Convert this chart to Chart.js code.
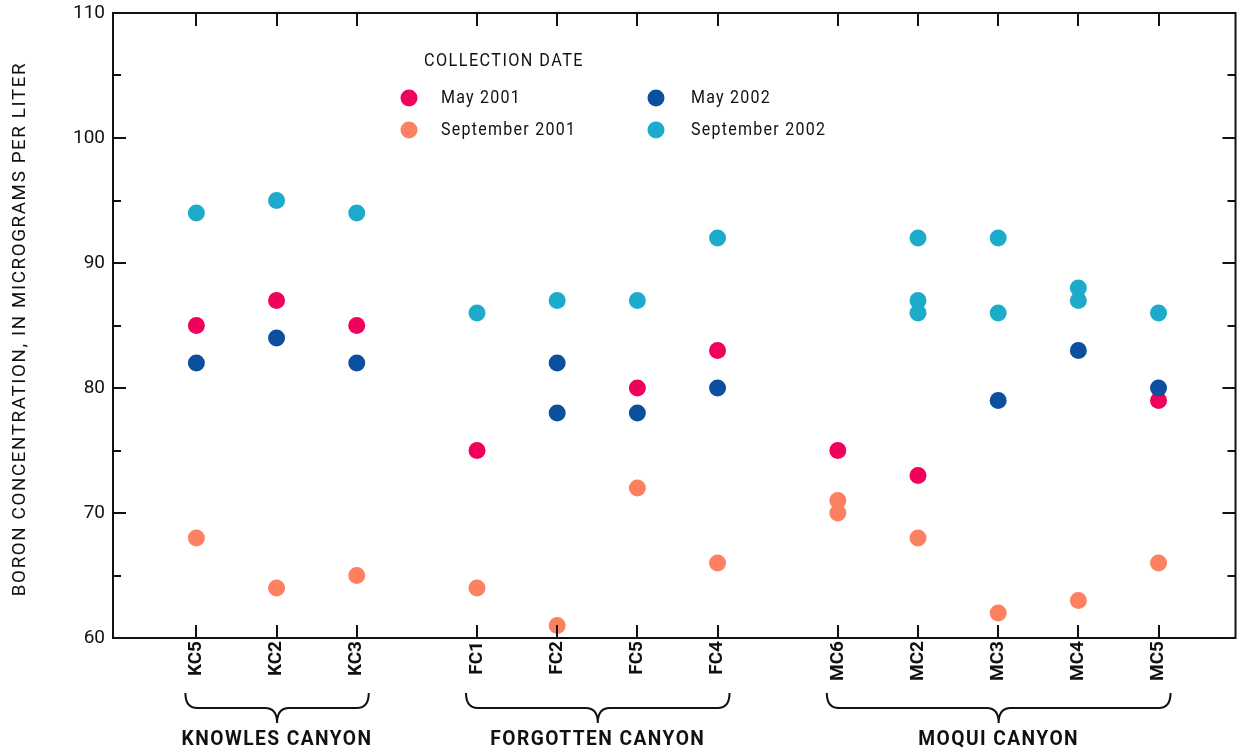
<!DOCTYPE html>
<html>
<head>
<meta charset="utf-8">
<script src="https://cdn.jsdelivr.net/npm/chart.js@4.4.1/dist/chart.umd.min.js"></script>
<style>
  html, body { margin: 0; padding: 0; background: #fff; }
  #wrap { width: 1244px; height: 756px; position: relative; }
</style>
</head>
<body>
<div id="wrap"><canvas id="chart"></canvas></div>
<script>
// sites, grouped by canyon
const groupNames = ['KNOWLES CANYON', 'FORGOTTEN CANYON', 'MOQUI CANYON'];
const groupSizes = [3, 4, 5];
const sites = ['KC5', 'KC2', 'KC3', 'FC1', 'FC2', 'FC5', 'FC4', 'MC6', 'MC2', 'MC3', 'MC4', 'MC5'];

// boron, micrograms per liter (a site can have several samples)
const may2001 = [85, 87, 85, 75, null, 80, 83, 75, 73, null, null, 79];
const sep2001 = [68, 64, 65, 64, 61, 72, 66, [71, 70], 68, 62, 63, 66];
const may2002 = [82, 84, 82, null, [82, 78], 78, 80, null, null, 79, 83, 80];
const sep2002 = [94, 95, 94, 86, 87, 87, 92, null, [92, 87, 86], [92, 86], [88, 87], 86];

const yTicks = [60, 70, 80, 90, 100, 110];

const FONT = 'Roboto, "Liberation Sans", sans-serif';
Chart.defaults.font.family = FONT;
Chart.defaults.color = '#111';

// x position of each site: one unit apart, half a unit extra between canyons
const GAP = 0.5;
let xPos = [];
let groupRange = [];
let p = 0;
groupSizes.forEach((n, g) => {
  let start = p;
  for (let i = 0; i < n; i++) { xPos.push(p); p++; }
  groupRange.push([start, p - 1]);
  p += GAP;
});

function toPoints(vals) {
  let pts = [];
  vals.forEach((v, i) => {
    if (v == null) return;
    (Array.isArray(v) ? v : [v]).forEach(y => pts.push({ x: xPos[i], y: y }));
  });
  return pts;
}

const series = [
  { label: 'May 2001', vals: may2001, color: '#F0025C', order: 3 },
  { label: 'September 2001', vals: sep2001, color: '#FD8061', order: 4 },
  { label: 'May 2002', vals: may2002, color: '#0B4F9E', order: 1 },
  { label: 'September 2002', vals: sep2002, color: '#1DABCC', order: 2 },
];

const datasets = series.map(s => ({
  label: s.label,
  data: toPoints(s.vals),
  backgroundColor: s.color,
  borderWidth: 0,
  pointRadius: 8.5,
  pointHoverRadius: 8.5,
  order: s.order,
  clip: false,
}));

// text squeezed horizontally, to get near the condensed face of the original
function squeezed(ctx, text, x, y, sx, align) {
  ctx.save();
  ctx.translate(x, y);
  ctx.scale(sx, 1);
  ctx.textAlign = align;
  ctx.fillText(text, 0, 0);
  ctx.restore();
}

const frame = {
  id: 'frame',
  afterDraw(chart) {
    const ctx = chart.ctx;
    const a = chart.chartArea;
    const xs = chart.scales.x, ys = chart.scales.y;
    ctx.save();
    ctx.strokeStyle = '#111';
    ctx.lineWidth = 2;
    ctx.strokeRect(a.left, a.top, a.right - a.left, a.bottom - a.top);

    // inward tick marks
    ctx.beginPath();
    xPos.forEach(v => {
      let x = Math.round(xs.getPixelForValue(v));
      ctx.moveTo(x, a.bottom); ctx.lineTo(x, a.bottom - 13);
      ctx.moveTo(x, a.top); ctx.lineTo(x, a.top + 13);
    });
    for (let v = 60; v <= 110; v += 5) {
      let y = Math.round(ys.getPixelForValue(v));
      let len = v % 10 == 0 ? 13 : 8;
      ctx.moveTo(a.left, y); ctx.lineTo(a.left + len, y);
      ctx.moveTo(a.right, y); ctx.lineTo(a.right - len, y);
    }
    ctx.stroke();

    // braces and canyon names
    ctx.fillStyle = '#111';
    ctx.textBaseline = 'middle';
    ctx.letterSpacing = '1.5px';
    ctx.font = 'bold 20px ' + FONT;
    groupRange.forEach((r, g) => {
      let x0 = xs.getPixelForValue(r[0]) - 11;
      let x1 = xs.getPixelForValue(r[1]) + 12;
      let cx = (x0 + x1) / 2;
      let top = 693, mid = 708, bot = 723, rr = 12;
      ctx.beginPath();
      ctx.moveTo(x0, top);
      ctx.quadraticCurveTo(x0, mid, x0 + rr, mid);
      ctx.lineTo(cx - rr, mid);
      ctx.quadraticCurveTo(cx, mid, cx, bot);
      ctx.quadraticCurveTo(cx, mid, cx + rr, mid);
      ctx.lineTo(x1 - rr, mid);
      ctx.quadraticCurveTo(x1, mid, x1, top);
      ctx.stroke();
      squeezed(ctx, groupNames[g], cx, 740, 0.96, 'center');
    });

    // y axis title
    ctx.font = '19px ' + FONT;
    ctx.letterSpacing = '1.6px';
    ctx.save();
    ctx.translate(20, 329);
    ctx.rotate(-Math.PI / 2);
    squeezed(ctx, 'BORON CONCENTRATION, IN MICROGRAMS PER LITER', 0, 0, 0.99, 'center');
    ctx.restore();

    // legend
    ctx.font = '18px ' + FONT;
    ctx.letterSpacing = '1.6px';
    squeezed(ctx, 'COLLECTION DATE', 424, 61, 0.9, 'left');
    const cols = [[409, 441], [656, 691]];
    const rows = [98, 130];
    const place = [[0, 0], [0, 1], [1, 0], [1, 1]];
    ctx.letterSpacing = '1.4px';
    series.forEach((s, i) => {
      let c = cols[place[i][0]], y = rows[place[i][1]];
      ctx.fillStyle = s.color;
      ctx.beginPath();
      ctx.arc(c[0], y, 8.5, 0, Math.PI * 2);
      ctx.fill();
      ctx.fillStyle = '#111';
      squeezed(ctx, s.label, c[1], y, 0.89, 'left');
    });
    ctx.restore();
  }
};

new Chart(document.getElementById('chart'), {
  type: 'scatter',
  data: { datasets: datasets },
  options: {
    animation: false,
    responsive: true,
    maintainAspectRatio: false,
    layout: { padding: { top: 13, right: 5, left: 0, bottom: 0 } },
    plugins: { legend: { display: false }, tooltip: { enabled: false } },
    scales: {
      x: {
        type: 'linear',
        min: -1.04,
        max: 12.96,
        afterBuildTicks: scale => { scale.ticks = xPos.map(v => ({ value: v })); },
        afterFit: scale => { scale.height = 118; scale.paddingLeft = 0; scale.paddingRight = 0; },
        grid: { display: false, drawTicks: false },
        border: { display: false },
        ticks: {
          autoSkip: false,
          minRotation: 90,
          maxRotation: 90,
          padding: 3,
          color: '#111',
          font: { size: 19, weight: 'bold' },
          callback: (v) => { let i = xPos.indexOf(v); return i >= 0 ? sites[i] : ''; },
        },
      },
      y: {
        min: 60,
        max: 110,
        afterBuildTicks: scale => { scale.ticks = yTicks.map(v => ({ value: v })); },
        afterFit: scale => { scale.width = 113; scale.paddingTop = 0; scale.paddingBottom = 0; },
        grid: { display: false, drawTicks: false },
        border: { display: false },
        ticks: { padding: 8, color: '#111', font: { size: 19 } },
      },
    },
  },
  plugins: [frame],
});
</script>
</body>
</html>
